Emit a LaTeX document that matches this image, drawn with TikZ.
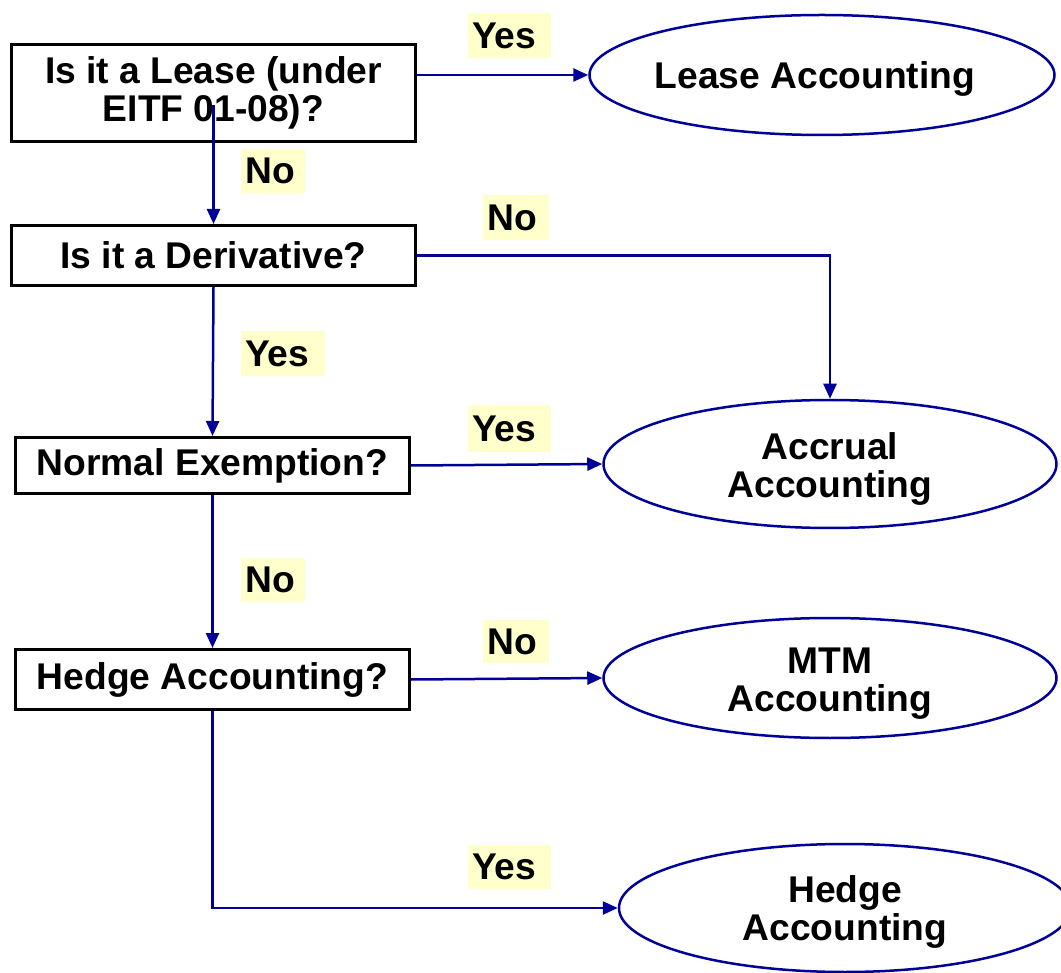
\documentclass[tikz,border=0pt]{standalone}
\usepackage{fontspec}
\setmainfont{Liberation Sans}
\usetikzlibrary{arrows.meta,shapes.geometric}
\definecolor{lineblue}{RGB}{0,0,153}
\definecolor{lblyellow}{RGB}{255,255,204}
\newcommand\tstrut[1]{\rule{0pt}{#1pt}}
\tikzset{
  txt/.style={font=\fontsize{37.2}{38}\selectfont\bfseries, align=center, text=black},
  qbox/.style={txt, draw=black, line width=3pt, inner sep=0pt, anchor=north west},
  oval/.style={txt, ellipse, draw=lineblue, line width=2.5pt, inner sep=0pt},
  conn/.style={draw=lineblue, line width=2.5pt, -{Triangle[length=15pt,width=13pt]}},
  lbl/.style={font=\fontsize{37.2}{38}\selectfont\bfseries, fill=lblyellow, inner xsep=4pt, inner ysep=0pt, anchor=north west, align=left}
}
\begin{document}
\begin{tikzpicture}[x=1pt,y=-1pt]
\useasboundingbox (0,0) rectangle (1061,973);
% question boxes
\node[qbox, minimum width=404, minimum height=97] (lease) at (10,43) {Is it a Lease (under\\EITF 01-08)?};
\node[qbox, minimum width=404, minimum height=60] (deriv) at (10,224) {Is it a Derivative?};
\node[qbox, minimum width=394, minimum height=56] (normal) at (14,436) {Normal Exemption?};
\node[qbox, minimum width=394, minimum height=60] (hedgeq) at (14,648) {Hedge Accounting?};
% outcome ellipses
\node[oval, minimum width=465, minimum height=120] (leaseacc) at (822,75) {\tstrut{34}\hspace*{-14pt}Lease Accounting};
\node[oval, minimum width=453, minimum height=128] (accrual) at (830,464) {\tstrut{37}Accrual\\Accounting};
\node[oval, minimum width=453, minimum height=120] (mtm) at (830,678) {\tstrut{36}MTM\\Accounting};
\node[oval, minimum width=452, minimum height=128] (hedgeacc) at (845,908) {\tstrut{35}Hedge\\Accounting};
% connectors
\draw[conn] ([yshift=-12pt]lease.center) -- (deriv.north);
\draw[conn] (lease.east |- leaseacc.west) -- (leaseacc.west);
\draw[conn] (deriv.east) -| (accrual.north);
\draw[conn] (deriv.south) -- (normal.north);
\draw[conn] (normal.east) -- (accrual.west);
\draw[conn] (normal.south) -- (hedgeq.north);
\draw[conn] (hedgeq.east) -- (mtm.west);
\draw[conn] (hedgeq.south) |- (hedgeacc.west);
% labels
\node[lbl, text width=75, minimum height=45] (y1) at (468,13) {Yes};
\node[lbl, text width=56, minimum height=44] (n1) at (241,149) {No};
\node[lbl, text width=58, minimum height=45] (n2) at (483,195) {No};
\node[lbl, text width=76, minimum height=45] (y2) at (241,331) {Yes};
\node[lbl, text width=75, minimum height=47] (y3) at (468,405) {Yes};
\node[lbl, text width=56, minimum height=44] (n3) at (241,558) {No};
\node[lbl, text width=58, minimum height=43] (n4) at (483,620) {No};
\node[lbl, text width=75, minimum height=44] (y4) at (468,845) {Yes};
\end{tikzpicture}
\end{document}
